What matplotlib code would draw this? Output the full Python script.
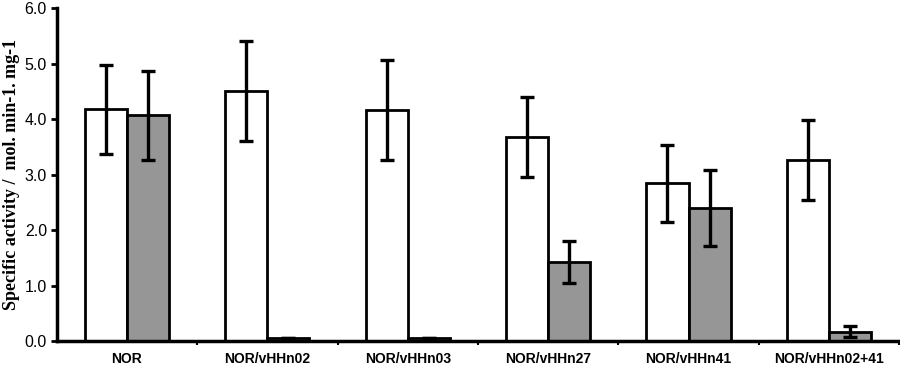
import numpy as np
import matplotlib
matplotlib.use("Agg")
import matplotlib.pyplot as plt

categories = ["NOR", "NOR/vHHn02", "NOR/vHHn03", "NOR/vHHn27", "NOR/vHHn41", "NOR/vHHn02+41"]
white_vals = [4.18, 4.50, 4.17, 3.67, 2.84, 3.27]
white_err = [0.80, 0.90, 0.90, 0.72, 0.69, 0.72]
gray_vals = [4.07, 0.05, 0.05, 1.42, 2.40, 0.17]
gray_err = [0.80, 0.0, 0.0, 0.38, 0.69, 0.10]

fig = plt.figure(figsize=(9, 3.68), dpi=100)
ax = fig.add_axes([0.063, 0.073, 0.936, 0.905])

x = np.arange(len(categories))
w = 0.3
ekw = dict(elinewidth=2.4, capthick=2.4, ecolor="black")
ax.bar(x - w / 2, white_vals, w, color="white", edgecolor="black", linewidth=2,
       yerr=white_err, capsize=5, error_kw=ekw, zorder=2)
ax.bar(x + w / 2, gray_vals, w, color="#969696", edgecolor="black", linewidth=2,
       yerr=[np.minimum(gray_err, gray_vals), gray_err], capsize=5, error_kw=ekw, zorder=2)

ax.set_xlim(-0.5, len(categories) - 0.5)
ax.set_ylim(0, 6)
ax.set_yticks(np.arange(0, 6.1, 1.0))
ax.set_yticklabels(["%.1f" % v for v in np.arange(0, 6.1, 1.0)],
                   fontfamily="Liberation Sans", fontsize=11.5)

# category labels centred, tick marks on the boundaries
ax.set_xticks(x)
ax.set_xticklabels(categories, fontfamily="Liberation Sans", fontweight="bold", fontsize=10)
ax.tick_params(axis="x", which="major", length=0, pad=8)
ax.set_xticks(np.arange(0.5, len(categories), 1.0), minor=True)
ax.tick_params(axis="x", which="minor", length=3, width=1.5, direction="out")
ax.tick_params(axis="y", length=4, width=2, direction="out", pad=3)

for s in ["top", "right"]:
    ax.spines[s].set_visible(False)
for s in ["left", "bottom"]:
    ax.spines[s].set_linewidth(2.5)

ax.set_ylabel("Specific activity /  mol. min-1. mg-1", fontfamily="Liberation Serif",
              fontweight="bold", fontsize=13, labelpad=3)

fig.savefig("out.png", dpi=100)
